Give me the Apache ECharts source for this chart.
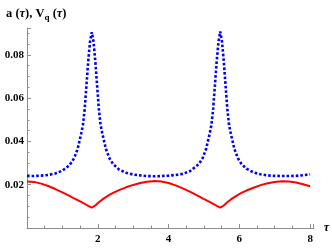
<!DOCTYPE html>
<html><head><meta charset="utf-8">
<script src="https://cdn.jsdelivr.net/npm/echarts@6/dist/echarts.min.js"></script>
<style>html,body{margin:0;padding:0;background:#fff}#c{width:332px;height:249px}</style>
</head><body><div id="c"></div>
<script>
const tau = [0,0.2,0.4,0.6,0.8,1.0,1.2,
  1.33,1.43,1.53,1.58,1.63,1.68,1.73,1.78,1.83,
  1.88,1.93,1.98,2.03,2.08,2.13,2.23,2.33,2.43,
  2.6,2.8,3.0,3.2,3.4,3.6,3.8,4.0,4.2,4.4,4.6,
  4.86,4.96,5.06,5.16,5.21,5.26,5.31,5.36,5.41,5.46,
  5.51,5.56,5.61,5.66,5.71,5.76,5.86,5.96,6.06,
  6.2,6.4,6.6,6.8,7.0,7.2,7.4,7.6,7.8,8.0];
const vq = [0.0240,0.0240,0.0242,0.0245,0.0252,0.0265,0.0290,
  0.0322,0.0365,0.0435,0.0475,0.0550,0.0660,0.0770,0.0860,0.0905,
  0.0860,0.0770,0.0660,0.0550,0.0475,0.0435,0.0365,0.0322,0.0296,
  0.0270,0.0255,0.0247,0.0243,0.0240,0.0239,0.0240,0.0242,0.0245,0.0250,0.0262,
  0.0296,0.0322,0.0365,0.0435,0.0475,0.0550,0.0660,0.0770,0.0860,0.0908,
  0.0860,0.0770,0.0660,0.0550,0.0475,0.0435,0.0365,0.0322,0.0296,
  0.0274,0.0257,0.0248,0.0243,0.0241,0.0240,0.0240,0.0241,0.0244,0.0248];
const a = [0.0215,0.0213,0.0205,0.0194,0.0180,0.0165,0.0148,
  0.0137,0.0129,0.0121,0.0117,0.0112,0.0107,0.0102,0.0097,0.0094,
  0.0098,0.0104,0.0111,0.0119,0.0126,0.0132,0.0143,0.0153,0.0162,
  0.0175,0.0188,0.0199,0.0208,0.0214,0.0217,0.0215,0.0208,0.0197,0.0183,0.0168,
  0.0146,0.0137,0.0129,0.0121,0.0117,0.0112,0.0107,0.0102,0.0097,0.0094,
  0.0098,0.0104,0.0111,0.0119,0.0126,0.0132,0.0143,0.0153,0.0162,
  0.0173,0.0186,0.0198,0.0207,0.0213,0.0216,0.0215,0.0210,0.0202,0.0193];
const xTicks = [2,4,6,8];
const yTicks = [0.02,0.04,0.06,0.08];

const font = '"Liberation Serif","Times New Roman",serif';
const gray = '#8c8c8c';
const chart = echarts.init(document.getElementById('c'), null, {renderer:'canvas'});
chart.setOption({
  animation:false,
  title:{
    text:'{b|a }{b|(}{i|τ}{b|), V}{s|q}{b| (}{i|τ}{b|)}',
    left:1, top:1,
    textStyle:{rich:{
      b:{fontFamily:font,fontWeight:'bold',fontSize:12.5,color:'#000'},
      i:{fontFamily:font,fontStyle:'italic',fontWeight:'bold',fontSize:12.5,color:'#000'},
      s:{fontFamily:font,fontWeight:'bold',fontSize:9,color:'#000',verticalAlign:'bottom',padding:[7,0,0,0]}
    }}
  },
  grid:{left:27,right:17.4,top:28,bottom:21,containLabel:false},
  xAxis:{
    type:'value',min:0,max:8.1,interval:2,
    name:'τ',nameLocation:'end',nameGap:10,
    nameTextStyle:{fontFamily:font,fontStyle:'italic',fontWeight:'bold',fontSize:12,color:'#000',verticalAlign:'middle'},
    axisLine:{lineStyle:{color:gray,width:1}},
    axisTick:{inside:true,length:4,lineStyle:{color:gray}},
    minorTick:{show:true,splitNumber:4,length:2.5,lineStyle:{color:gray}},
    splitLine:{show:false},
    axisLabel:{margin:6,fontFamily:font,fontWeight:'bold',fontSize:11,color:'#000',
      formatter:v=>xTicks.includes(Math.round(v*1000)/1000)?String(v):''}
  },
  yAxis:{
    type:'value',min:0,max:0.0924,interval:0.02,
    axisLine:{show:true,lineStyle:{color:gray,width:1}},
    axisTick:{show:true,inside:true,length:4,lineStyle:{color:gray}},
    minorTick:{show:true,splitNumber:4,length:2.5,lineStyle:{color:gray}},
    splitLine:{show:false},
    axisLabel:{margin:3,fontFamily:font,fontWeight:'bold',fontSize:11,color:'#000',
      formatter:v=>{const r=Math.round(v*1000)/1000;return yTicks.includes(r)?r.toFixed(2):'';}}
  },
  series:[
    {type:'line',data:tau.map((t,i)=>[t,vq[i]]),showSymbol:false,smooth:false,
      lineStyle:{color:'#0000ff',width:2.6,type:[2.6,2]},z:3},
    {type:'line',data:tau.map((t,i)=>[t,a[i]]),showSymbol:false,smooth:false,
      lineStyle:{color:'#ff0000',width:2},z:2}
  ]
});
</script></body></html>
